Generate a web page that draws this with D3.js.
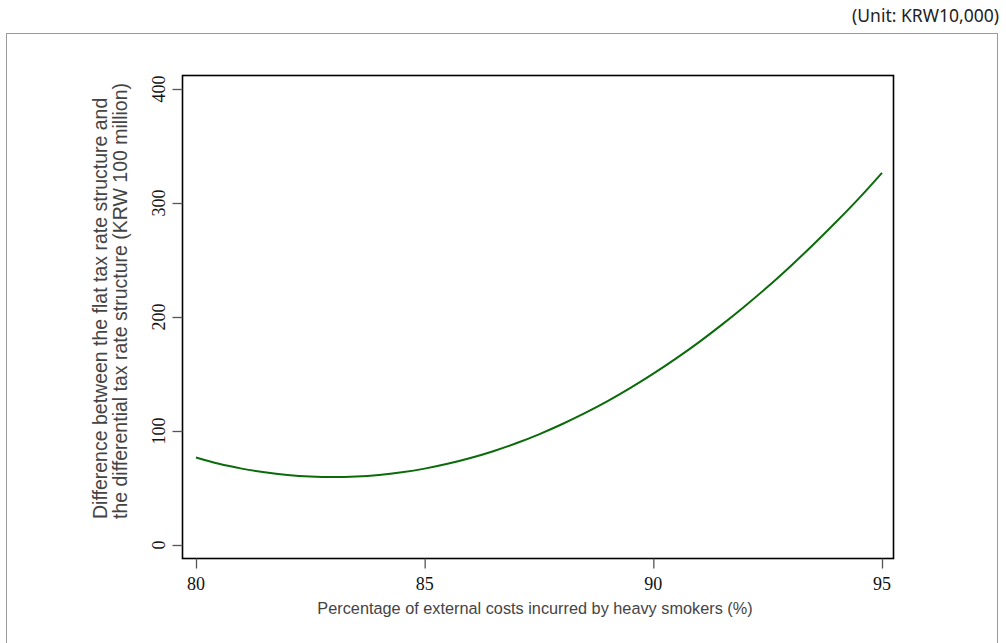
<!DOCTYPE html>
<html>
<head>
<meta charset="utf-8">
<script src="https://cdn.jsdelivr.net/npm/d3@7"></script>
<style>
  body { margin: 0; background: #fff; }
  svg { display: block; }
</style>
</head>
<body>
<div id="chart"></div>
<script>
// values
var shares = [80, 80.5, 81, 81.5, 82, 82.5, 83, 83.5, 84, 84.5, 85, 85.5, 86, 86.5, 87, 87.5,
              88, 88.5, 89, 89.5, 90, 90.5, 91, 91.5, 92, 92.5, 93, 93.5, 94, 94.5, 95];
var diffs = [76.8, 71.2, 67.0, 63.8, 61.5, 60.1, 59.6, 60.1, 61.5, 63.8, 67.0, 71.2, 76.3, 82.3, 89.2, 97.1,
             105.9, 115.6, 126.2, 137.8, 150.3, 163.7, 178.0, 193.3, 209.5, 226.5, 244.6, 263.6, 283.5, 304.3, 326.5];
var xTicks = [80, 85, 90, 95];
var yTicks = [0, 100, 200, 300, 400];
var unitLabel = "(Unit: KRW10,000)";
var xTitle = "Percentage of external costs incurred by heavy smokers (%)";
var yTitle = ["Difference between the flat tax rate structure and",
              "the differential tax rate structure (KRW 100 million)"];

var data = shares.map((s, i) => ({x: s, y: diffs[i]}));

var svgWidth = 1006, svgHeight = 643;
var box = {left: 182.5, top: 75.5, right: 893.5, bottom: 558.5};
var serif = "Liberation Serif, DejaVu Serif, serif";

var svg = d3.select("#chart").append("svg")
    .attr("width", svgWidth)
    .attr("height", svgHeight);

// outer frame
svg.append("rect")
    .attr("x", 6.5).attr("y", 33.5)
    .attr("width", 991).attr("height", 640)
    .attr("fill", "none")
    .attr("stroke", "#9a9a9a")
    .attr("stroke-width", 1);

svg.append("text")
    .attr("x", 999).attr("y", 22)
    .attr("text-anchor", "end")
    .attr("font-family", "'Noto Sans', sans-serif")
    .attr("font-size", 17.5)
    .attr("fill", "#222")
    .text(unitLabel);

var x = d3.scaleLinear().domain([80, 95]).range([196, 882]);
var y = d3.scaleLinear().domain([0, 400]).range([545, 89]);

// plot box
svg.append("rect")
    .attr("x", box.left).attr("y", box.top)
    .attr("width", box.right - box.left).attr("height", box.bottom - box.top)
    .attr("fill", "none")
    .attr("stroke", "#000")
    .attr("stroke-width", 1.6);

// y axis (tick marks from d3, labels drawn below)
var yAxis = svg.append("g")
    .attr("transform", `translate(${box.left}, 0)`)
    .call(d3.axisLeft(y).tickValues(yTicks).tickSize(10).tickFormat(""));
yAxis.select(".domain").remove();
yAxis.selectAll(".tick line").attr("stroke", "#555").attr("stroke-width", 1.3);

svg.append("g").selectAll("text")
    .data(yTicks)
    .enter()
    .append("text")
    .attr("transform", d => `translate(${box.left - 18}, ${y(d)}) rotate(-90)`)
    .attr("text-anchor", "middle")
    .style("font-family", serif)
    .style("font-size", "18px")
    .attr("fill", "#111")
    .text(d => d);

// x axis
var xAxis = svg.append("g")
    .attr("transform", `translate(0, ${box.bottom})`)
    .call(d3.axisBottom(x).tickValues(xTicks).tickSize(10).tickFormat(""));
xAxis.select(".domain").remove();
xAxis.selectAll(".tick line").attr("stroke", "#555").attr("stroke-width", 1.3);

svg.append("g").selectAll("text")
    .data(xTicks)
    .enter()
    .append("text")
    .attr("x", d => x(d))
    .attr("y", box.bottom + 31)
    .attr("text-anchor", "middle")
    .style("font-family", serif)
    .style("font-size", "18px")
    .attr("fill", "#111")
    .text(d => d);

// titles
svg.append("text")
    .attr("x", 535).attr("y", 614)
    .attr("text-anchor", "middle")
    .attr("font-family", "'Liberation Sans', Arial, sans-serif")
    .attr("font-size", 16.3)
    .attr("fill", "#444")
    .text(xTitle);

svg.selectAll(".ytitle")
    .data(yTitle)
    .enter()
    .append("text")
    .attr("class", "ytitle")
    .attr("transform", (d, i) => `translate(${107 + i * 20}, 519) rotate(-90)`)
    .attr("text-anchor", "start")
    .attr("font-family", "'Liberation Sans', Arial, sans-serif")
    .attr("font-size", 19.5)
    .attr("fill", "#444")
    .text(d => d);

// curve
var line = d3.line()
    .x(d => x(d.x))
    .y(d => y(d.y))
    .curve(d3.curveMonotoneX);

svg.append("path")
    .datum(data)
    .attr("d", line)
    .attr("fill", "none")
    .attr("stroke", "#0b6b0b")
    .attr("stroke-width", 2);
</script>
</body>
</html>
